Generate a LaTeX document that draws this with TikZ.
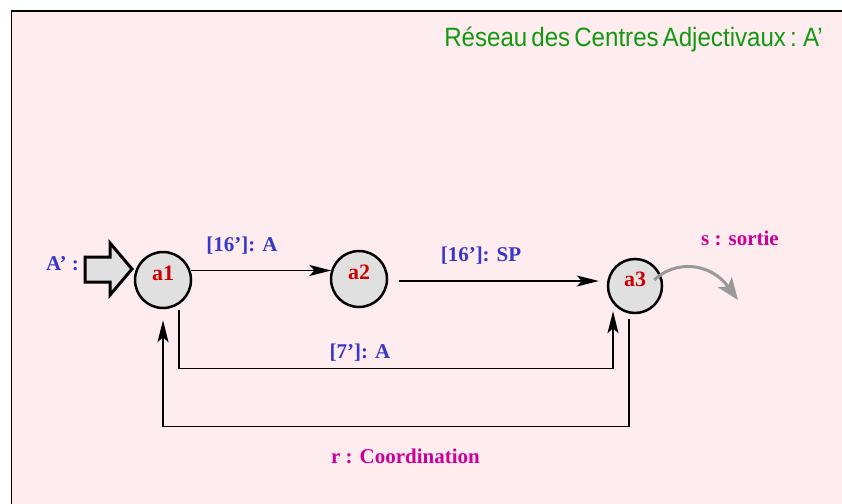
\documentclass[tikz,border=0pt]{standalone}
\usepackage{fontspec}
\setmainfont{Liberation Serif}
\newfontfamily\titlefont[WordSpace=0.6]{Liberation Sans}
\usetikzlibrary{arrows.meta,calc}
\definecolor{bgpink}{RGB}{255,236,238}
\definecolor{lblue}{RGB}{55,55,205}
\definecolor{nred}{RGB}{204,0,0}
\definecolor{lmag}{RGB}{204,0,153}
\definecolor{tgreen}{RGB}{17,153,17}
\definecolor{cfill}{RGB}{224,224,224}
\definecolor{sgray}{RGB}{153,153,153}
\tikzset{
  statenode/.style={circle, draw=black, line width=2.5pt, fill=cfill, minimum size=56pt, inner sep=0pt,
    text height=14pt, text depth=14pt, font=\fontsize{22}{22}\selectfont\bfseries, text=nred},
  arclabel/.style={anchor=base, font=\fontsize{21}{21}\selectfont\bfseries, text=lblue, inner sep=0pt},
  maglabel/.style={anchor=base, font=\fontsize{21}{21}\selectfont\bfseries, text=lmag, inner sep=0pt},
  arc/.style={line width=1.4pt, -{Stealth[length=22pt,width=11pt,inset=5pt]}},
  sortiearrow/.style={line width=3pt, draw=sgray, -{Stealth[length=22pt,width=17pt,inset=5pt]}},
  bigarrow/.style={line width=3pt, draw=black, fill=cfill, line join=miter}
}
\begin{document}
\begin{tikzpicture}[x=1pt,y=-1pt]
\useasboundingbox (0,0) rectangle (842,503);
\fill[white] (0,0) rectangle (842,503);
\draw[line width=1.6pt, fill=bgpink] (11.5,11) rectangle (870,530);

\node[anchor=base, text=tgreen, inner sep=0pt, xscale=0.91,
  font=\titlefont\fontsize{26.5}{26.5}\selectfont] (title) at (633.5,47) {Réseau des Centres Adjectivaux : A’};

\node[statenode] (a1) at (163,280) {a1};
\node[statenode] (a2) at (359,279) {a2};
\node[statenode, minimum size=54pt] (a3) at (635,286) {a3};

\node[arclabel] (inlbl) at (62.5,270) {A’ :};
\draw[bigarrow] (85,257) -- (110,257) -- (110,243) -- (132,269) -- (110,295) -- (110,282) -- (85,282) -- cycle;

\draw[arc] (a1.19) -- (a2.161 |- a1.19);
\draw[arc] ([shift={(11,2)}]a2.east) -- ([shift={(-8,-5)}]a3.west);
\draw[arc] ([shift={(16,1)}]a1.south) -- ++(0,58) -| ([shift={(-22,-3)}]a3.south);
\draw[arc] ([shift={(-6,5)}]a3.south) -- ++(0,107) -| ([shift={(0,11)}]a1.south);

\coordinate (sout) at (738,300);
\draw[sortiearrow] ([shift={(-9,-6)}]a3.east) .. controls (675,260) and (710,262) .. (sout);

\node[arclabel] (l16a) at (242,251) {[16’]: A};
\node[arclabel] (l16sp) at (481,261) {[16’]: SP};
\node[arclabel] (l7a) at (360,358) {[7’]: A};
\node[maglabel] (lsortie) at (740,245) {s : sortie};
\node[maglabel] (lcoord) at (405.5,463) {r : Coordination};
\end{tikzpicture}
\end{document}
